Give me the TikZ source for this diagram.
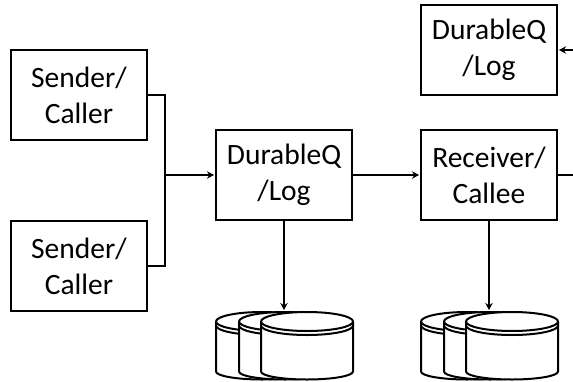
\documentclass[tikz,border=0pt]{standalone}
\usepackage{fontspec}
\setmainfont{Carlito}
\usetikzlibrary{arrows.meta}
\tikzset{
  x=1pt,y=-1pt,
  boxnode/.style={draw=black,line width=2pt,minimum width=136pt,minimum height=90pt,inner sep=0pt,align=center,font=\fontsize{29.5}{36}\selectfont,execute at begin node={\vspace*{4pt}}},
  wire/.style={draw=black,line width=2pt},
  arrowwire/.style={wire,-{Stealth[length=7pt,width=7.5pt]},shorten >=1pt},
  diskline/.style={draw=black,line width=2pt,fill=white},
  pics/disk/.style={code={
    \path[diskline] (-46,0) -- (-46,50) arc[start angle=180,end angle=0,x radius=46,y radius=8] -- (46,0) arc[start angle=0,end angle=-180,x radius=46,y radius=9.5] -- cycle;
    \draw[diskline,fill=none] (-46,0) arc[start angle=180,end angle=0,x radius=46,y radius=9.5];
    \draw[diskline,fill=none] (-46,4) arc[start angle=180,end angle=0,x radius=46,y radius=9.5];
  }}
}
\begin{document}
\begin{tikzpicture}
\useasboundingbox (0,0) rectangle (573,381);
\clip (0,0) rectangle (573,381);
\node[boxnode] (s1) at (79,95) {Sender/\\Caller};
\node[boxnode] (s2) at (79,266) {Sender/\\Caller};
\node[boxnode] (d1) at (284,175) {DurableQ\\/Log};
\node[boxnode] (r1) at (489,175) {Receiver/\\Callee};
\node[boxnode] (d2) at (489,50) {DurableQ\\/Log};
\coordinate (join) at (165,175);
\coordinate (edgeA) at (575,175);
\coordinate (edgeB) at (575,50);
\pic at (262,321.5) {disk};
\pic at (285,321.5) {disk};
\pic at (307,321.5) {disk};
\pic at (467,321.5) {disk};
\pic at (490,321.5) {disk};
\pic at (512,321.5) {disk};
\coordinate (t1) at (284,311);
\coordinate (t2) at (489,311);
\draw[wire] (s1.east) -| (join);
\draw[wire] (s2.east) -| (join);
\draw[arrowwire] (join) -- (d1.west);
\draw[arrowwire] (d1.east) -- (r1.west);
\draw[arrowwire] (d1.south) -- (t1);
\draw[arrowwire] (r1.south) -- (t2);
\draw[wire] (r1.east) -- (edgeA);
\draw[arrowwire] (edgeB) -- (d2.east);
\end{tikzpicture}
\end{document}
